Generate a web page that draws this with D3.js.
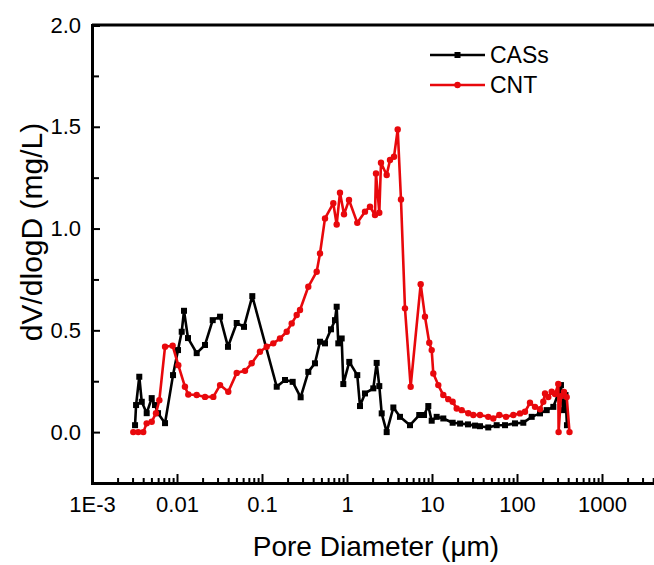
<!DOCTYPE html>
<html>
<head>
<meta charset="utf-8">
<script src="https://cdn.jsdelivr.net/npm/d3@7"></script>
<style>
  html, body { margin: 0; padding: 0; background: #fff; }
  svg { display: block; font-family: "Liberation Sans", Arial, sans-serif; }
</style>
</head>
<body>
<svg width="654" height="565"></svg>
<script>
// pore diameter (um) and dV/dlogD values
const casDiameter = [0.00321, 0.0033, 0.0036, 0.00385, 0.0044, 0.00504, 0.00551, 0.00598, 0.00723, 0.00898,
  0.01028, 0.01136, 0.01209, 0.01347, 0.01705, 0.02135, 0.0263, 0.0321, 0.0398, 0.0504,
  0.0614, 0.0769, 0.149, 0.1865, 0.2296, 0.285, 0.3505, 0.42, 0.4814, 0.551,
  0.648, 0.722, 0.756, 0.79, 0.866, 0.905, 1.064, 1.321, 1.422, 1.628,
  2.039, 2.234, 2.399, 2.56, 2.93, 3.51, 4.2, 5.51, 7.08, 8.05,
  9.05, 9.92, 11.35, 13.58, 17.5, 21.4, 26.5, 32.1, 36.7, 45.9,
  57.7, 72.3, 94.7, 118.6, 148.9, 186.5, 223.6, 267.5, 306, 329,
  347, 372, 387];
const casValue = [0.034, 0.133, 0.272, 0.149, 0.093, 0.167, 0.133, 0.093, 0.044, 0.28,
  0.403, 0.493, 0.596, 0.462, 0.388, 0.428, 0.55, 0.567, 0.419, 0.536,
  0.517, 0.668, 0.223, 0.256, 0.247, 0.171, 0.296, 0.338, 0.444, 0.436,
  0.505, 0.55, 0.616, 0.436, 0.46, 0.236, 0.345, 0.28, 0.128, 0.19,
  0.215, 0.34, 0.226, 0.092, 0.0, 0.121, 0.075, 0.034, 0.084, 0.084,
  0.128, 0.056, 0.075, 0.067, 0.046, 0.042, 0.038, 0.032, 0.029, 0.023,
  0.034, 0.034, 0.043, 0.046, 0.075, 0.092, 0.108, 0.124, 0.19, 0.231,
  0.108, 0.182, 0.034];

const cntDiameter = [0.00306, 0.0035, 0.00401, 0.0044, 0.00504, 0.00566, 0.0062, 0.00723, 0.00889, 0.01036,
  0.0124, 0.01358, 0.01705, 0.02135, 0.02673, 0.0321, 0.0401, 0.0504, 0.0631, 0.0756,
  0.0946, 0.1135, 0.1358, 0.1628, 0.1953, 0.2236, 0.2559, 0.28, 0.3505, 0.44,
  0.4814, 0.551, 0.69, 0.756, 0.827, 0.922, 1.056, 1.321, 1.628, 1.865,
  2.135, 2.193, 2.399, 2.512, 2.93, 3.206, 3.573, 3.95, 4.316, 4.81,
  5.61, 7.36, 8.27, 9.29, 9.92, 10.36, 11.86, 13.58, 15.55, 17.5,
  19.53, 22.36, 26.73, 30.6, 36.7, 45.9, 52.6, 61.9, 74.3, 90.5,
  108.5, 124.2, 142.2, 162.8, 186.5, 203.9, 213.5, 233.5, 255.9, 280,
  306, 308.6, 329, 357, 384.5, 414.7];
const cntValue = [0, 0, 0, 0.043, 0.051, 0.093, 0.157, 0.419, 0.424, 0.329,
  0.223, 0.185, 0.182, 0.173, 0.173, 0.231, 0.198, 0.291, 0.301, 0.338,
  0.395, 0.419, 0.436, 0.46, 0.493, 0.534, 0.575, 0.6, 0.714, 0.788,
  0.878, 1.05, 1.124, 1.02, 1.176, 1.07, 1.14, 1.028, 1.083, 1.107,
  1.066, 1.271, 1.078, 1.323, 1.263, 1.337, 1.353, 1.487, 1.143, 0.608,
  0.223, 0.727, 0.567, 0.439, 0.403, 0.288, 0.231, 0.182, 0.162, 0.149,
  0.116, 0.108, 0.093, 0.084, 0.084, 0.075, 0.067, 0.084, 0.075, 0.084,
  0.092, 0.1, 0.144, 0.124, 0.112, 0.149, 0.19, 0.172, 0.198, 0.187,
  0.236, 0, 0.177, 0.197, 0.172, 0];

const seriesNames = ["CASs", "CNT"];
const xMajorTicks = [1e-3, 1e-2, 1e-1, 1, 10, 100, 1000];
const xTickLabels = ["1E-3", "0.01", "0.1", "1", "10", "100", "1000"];
const yMajorTicks = [0, 0.5, 1.0, 1.5, 2.0];
const yMinorTicks = [0.25, 0.75, 1.25, 1.75];

const svg = d3.select("svg");
const plotLeft = 92, plotTop = 25, plotBottom = 483, plotRight = 687;

const x = d3.scaleLog().domain([1e-3, 1e4]).range([plotLeft, plotRight]);
const y = d3.scaleLinear().domain([-0.25, 2.0]).range([plotBottom, plotTop]);

// minor x ticks 2..9 per decade
let xMinorTicks = [];
for (let k = -3; k < 4; k++) {
  for (let m = 2; m <= 9; m++) xMinorTicks.push(m * Math.pow(10, k));
}

// frame: top border
svg.append("line")
  .attr("x1", plotLeft).attr("x2", plotRight)
  .attr("y1", plotTop).attr("y2", plotTop)
  .attr("stroke", "#000").attr("stroke-width", 3);

// x axis
let xMinor = svg.append("g")
  .attr("transform", `translate(0,${plotBottom})`)
  .call(d3.axisBottom(x).tickValues(xMinorTicks).tickSize(-5).tickFormat(""));
let xMajor = svg.append("g")
  .attr("transform", `translate(0,${plotBottom})`)
  .call(d3.axisBottom(x).tickValues(xMajorTicks).tickSize(-9).tickPadding(13)
    .tickFormat((d, i) => xTickLabels[i]));

// y axis
let yMinor = svg.append("g")
  .attr("transform", `translate(${plotLeft},0)`)
  .call(d3.axisLeft(y).tickValues(yMinorTicks).tickSize(-7).tickFormat(""));
let yMajor = svg.append("g")
  .attr("transform", `translate(${plotLeft},0)`)
  .call(d3.axisLeft(y).tickValues(yMajorTicks).tickSize(-8).tickPadding(11)
    .tickFormat(d3.format(".1f")));

[xMinor, xMajor, yMinor, yMajor].forEach(g => {
  g.select(".domain").attr("stroke-width", 3);
  g.selectAll(".tick line").attr("stroke-width", 2);
  g.selectAll("text").attr("font-size", 22).attr("fill", "#000")
    .attr("font-family", "Liberation Sans, Arial, sans-serif");
});

// axis titles
svg.append("text")
  .attr("x", 376).attr("y", 556)
  .attr("text-anchor", "middle")
  .attr("font-size", 28)
  .text("Pore Diameter (μm)");

svg.append("text")
  .attr("transform", "translate(42,232) rotate(-90)")
  .attr("text-anchor", "middle")
  .attr("font-size", 30)
  .text("dV/dlogD (mg/L)");

// series
const line = d3.line().x(d => x(d[0])).y(d => y(d[1]));

const casData = casDiameter.map((d, i) => [d, casValue[i]]);
const cntData = cntDiameter.map((d, i) => [d, cntValue[i]]);

const black = "#000", red = "#e8080c";

svg.append("path").datum(casData)
  .attr("d", line).attr("fill", "none")
  .attr("stroke", black).attr("stroke-width", 2.6).attr("stroke-linejoin", "round");
svg.append("g").selectAll("rect").data(casData).enter().append("rect")
  .attr("x", d => x(d[0]) - 3).attr("y", d => y(d[1]) - 3)
  .attr("width", 6).attr("height", 6).attr("fill", black);

svg.append("path").datum(cntData)
  .attr("d", line).attr("fill", "none")
  .attr("stroke", red).attr("stroke-width", 2.6).attr("stroke-linejoin", "round");
svg.append("g").selectAll("circle").data(cntData).enter().append("circle")
  .attr("cx", d => x(d[0])).attr("cy", d => y(d[1]))
  .attr("r", 3.2).attr("fill", red);

// legend
const legend = svg.append("g");
seriesNames.forEach((name, i) => {
  const ly = 55 + i * 30;
  const col = i === 0 ? black : red;
  legend.append("line")
    .attr("x1", 430).attr("x2", 485).attr("y1", ly).attr("y2", ly)
    .attr("stroke", col).attr("stroke-width", 2.6);
  if (i === 0) {
    legend.append("rect").attr("x", 454.5).attr("y", ly - 3)
      .attr("width", 6).attr("height", 6).attr("fill", col);
  } else {
    legend.append("circle").attr("cx", 457.5).attr("cy", ly).attr("r", 3.2).attr("fill", col);
  }
  legend.append("text")
    .attr("x", 490).attr("y", ly + 8)
    .attr("font-size", 23)
    .text(name);
});
</script>
</body>
</html>
